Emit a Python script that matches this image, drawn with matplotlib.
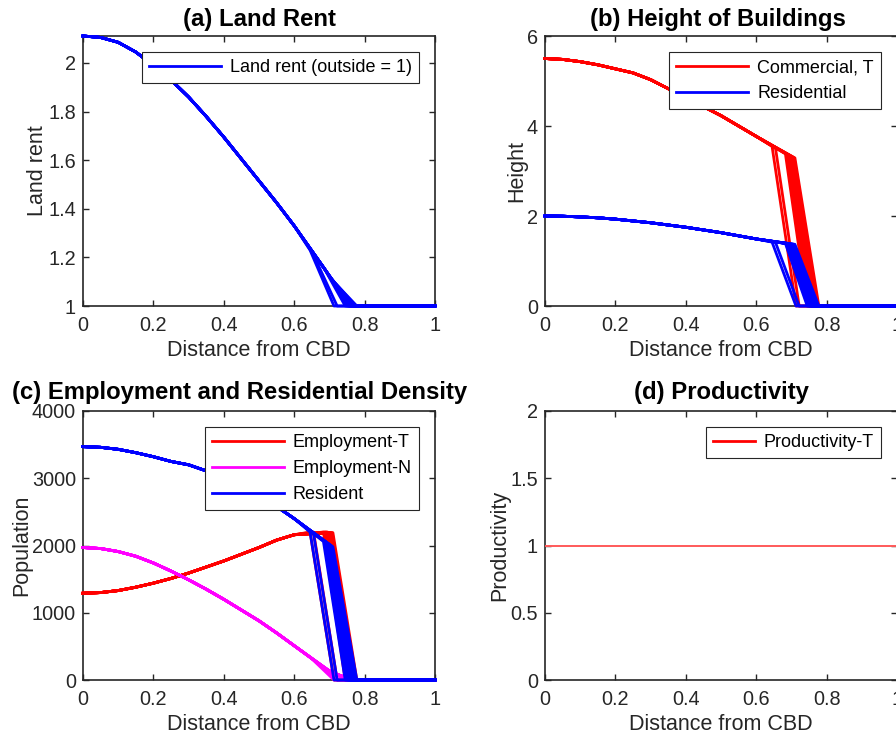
import matplotlib
matplotlib.use("Agg")
import matplotlib.pyplot as plt

plt.rcParams['font.family'] = ['Liberation Sans', 'DejaVu Sans']

# shared distance grid (inside the city) and base profiles
dist = [0.0, 0.05, 0.1, 0.15, 0.2, 0.25, 0.3, 0.35, 0.4, 0.45, 0.5, 0.55, 0.6, 0.645]
rent = [2.111, 2.105, 2.085, 2.045, 1.99, 1.93, 1.86, 1.78, 1.695, 1.605, 1.515, 1.425, 1.33, 1.23]
height_comm = [5.50, 5.48, 5.43, 5.36, 5.27, 5.18, 5.03, 4.83, 4.62, 4.43, 4.23, 4.00, 3.77, 3.55]
height_res = [2.00, 1.995, 1.98, 1.96, 1.93, 1.89, 1.85, 1.80, 1.75, 1.69, 1.63, 1.56, 1.49, 1.42]
emp_t = [1290, 1300, 1330, 1380, 1440, 1510, 1590, 1680, 1770, 1870, 1970, 2080, 2160, 2200]
emp_n = [1970, 1955, 1910, 1840, 1740, 1620, 1490, 1350, 1200, 1040, 880, 700, 510, 340]
resident = [3470, 3460, 3430, 3380, 3320, 3250, 3200, 3110, 3000, 2880, 2740, 2580, 2400, 2200]
productivity = [1.0] * len(dist)

# per-run city edge: last built point and the point where it reaches the outside value
edge_x = [0.645, 0.655, 0.683, 0.688, 0.692, 0.695, 0.698, 0.700, 0.703, 0.706, 0.708, 0.710]
zero_x = [0.713, 0.722, 0.745, 0.750, 0.754, 0.757, 0.760, 0.763, 0.767, 0.771, 0.775, 0.778]
rent_edge = [1.230, 1.210, 1.160, 1.150, 1.140, 1.135, 1.128, 1.124, 1.118, 1.112, 1.108, 1.104]
comm_edge = [3.55, 3.50, 3.38, 3.37, 3.35, 3.34, 3.33, 3.32, 3.31, 3.30, 3.29, 3.29]
resh_edge = [1.42, 1.41, 1.39, 1.39, 1.38, 1.38, 1.38, 1.37, 1.37, 1.37, 1.37, 1.37]
empt_edge = [2200, 2200, 2200, 2200, 2200, 2200, 2195, 2195, 2195, 2190, 2190, 2190]
empn_edge = [340, 300, 190, 170, 160, 150, 140, 130, 120, 110, 105, 100]
resid_edge = [2200, 2170, 2060, 2050, 2040, 2030, 2020, 2010, 2000, 1990, 1985, 1980]

xticks = [0, 0.2, 0.4, 0.6, 0.8, 1]
xtick_labels = ['0', '0.2', '0.4', '0.6', '0.8', '1']

DARK = '#262626'
W, H = 896, 737


def run_line(base, k, edge_vals, outside):
    if edge_x[k] == dist[-1]:
        return dist + [zero_x[k], 1.0], base + [outside, outside]
    xs = dist[:-1] + [edge_x[k], zero_x[k], 1.0]
    ys = base[:-1] + [edge_vals[k], outside, outside]
    return xs, ys


def style(ax, title, ylabel, yticks, ylabels, ylim, title_x=0.5, tpad=7):
    ax.set_xlim(0, 1)
    ax.set_ylim(*ylim)
    ax.set_xticks(xticks)
    ax.set_xticklabels(xtick_labels)
    ax.set_yticks(yticks)
    ax.set_yticklabels(ylabels)
    ax.tick_params(direction='in', length=4, width=1.0, top=True, right=True,
                   labelsize=14.3, colors=DARK)
    ax.tick_params(axis='x', pad=7)
    ax.tick_params(axis='y', pad=5)
    for s in ax.spines.values():
        s.set_color(DARK)
        s.set_linewidth(1.2)
    ax.set_title(title, fontsize=17.2, fontweight='bold', color='black', pad=tpad, x=title_x)
    ax.set_xlabel('Distance from CBD', fontsize=15.5, color=DARK, labelpad=4)
    ax.set_ylabel(ylabel, fontsize=15.5, color=DARK, labelpad=0)


def legend(ax, hl=4.0):
    leg = ax.legend(loc='upper right', borderaxespad=0.9, fancybox=False,
                    edgecolor=DARK, framealpha=1, fontsize=13,
                    handlelength=hl, handletextpad=0.5, borderpad=0.38,
                    labelspacing=0.5)
    leg.get_frame().set_linewidth(0.8)


fig = plt.figure(figsize=(W / 100, H / 100), dpi=100)
ax_a = fig.add_axes([83 / W, 1 - 306 / H, 352 / W, 270 / H])
ax_b = fig.add_axes([545 / W, 1 - 306 / H, 352 / W, 270 / H])
ax_c = fig.add_axes([83 / W, 1 - 680 / H, 352 / W, 269 / H])
ax_d = fig.add_axes([545 / W, 1 - 680 / H, 352 / W, 269 / H])

lw = 2.0
kw = dict(lw=lw, clip_on=False, zorder=3)
n = len(edge_x)

# (a) land rent
for k in range(n):
    xs, ys = run_line(rent, k, rent_edge, 1.0)
    ax_a.plot(xs, ys, color='blue', label='Land rent (outside = 1)' if k == 0 else None, **kw)
style(ax_a, '(a) Land Rent', 'Land rent', [1, 1.2, 1.4, 1.6, 1.8, 2],
      ['1', '1.2', '1.4', '1.6', '1.8', '2'], (1, 2.111))
legend(ax_a)

# (b) heights
for k in range(n):
    xs, ys = run_line(height_comm, k, comm_edge, 0.0)
    ax_b.plot(xs, ys, color='red', label='Commercial, T' if k == 0 else None, **kw)
for k in range(n):
    xs, ys = run_line(height_res, k, resh_edge, 0.0)
    ax_b.plot(xs, ys, color='blue', label='Residential' if k == 0 else None, **kw)
style(ax_b, '(b) Height of Buildings', 'Height', [0, 2, 4, 6],
      ['0', '2', '4', '6'], (0, 6), title_x=0.49)
legend(ax_b)

# (c) employment and residents
for k in range(n):
    xs, ys = run_line(emp_t, k, empt_edge, 0.0)
    ax_c.plot(xs, ys, color='red', label='Employment-T' if k == 0 else None, **kw)
for k in range(n):
    xs, ys = run_line(emp_n, k, empn_edge, 0.0)
    ax_c.plot(xs, ys, color='magenta', label='Employment-N' if k == 0 else None, **kw)
for k in range(n):
    xs, ys = run_line(resident, k, resid_edge, 0.0)
    ax_c.plot(xs, ys, color='blue', label='Resident' if k == 0 else None, **kw)
style(ax_c, '(c) Employment and Residential Density', 'Population',
      [0, 1000, 2000, 3000, 4000], ['0', '1000', '2000', '3000', '4000'], (0, 4000),
      title_x=0.446, tpad=9)
legend(ax_c)

# (d) productivity
ax_d.plot(dist + [1.0], productivity + [1.0], color='#ff5a5a', lw=1.4, zorder=3)
ax_d.plot([], [], color='red', lw=lw, label='Productivity-T')
style(ax_d, '(d) Productivity', 'Productivity', [0, 0.5, 1, 1.5, 2],
      ['0', '0.5', '1', '1.5', '2'], (0, 2), tpad=9)
legend(ax_d, hl=2.3)

fig.savefig('out.png', dpi=100)
